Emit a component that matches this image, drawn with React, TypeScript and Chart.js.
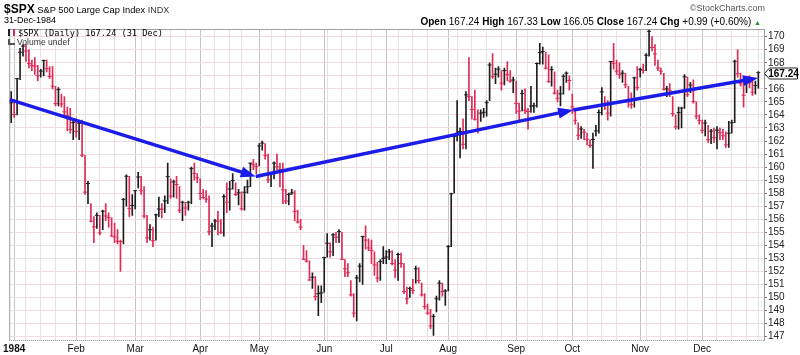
import React, { useEffect, useRef } from 'react';
import { Chart, registerables } from 'chart.js';

Chart.register(...registerables);

// [high, low, close]  (open = close in this data set)
type HLC = [number, number, number];

const prevClose1983 = 164.86; // 29-Dec-1983
const dec1983: HLC[] = [[165.8, 163.4, 164.93]];
const jan: HLC[] = [
  [164.9, 163.8, 164.04], [166.8, 164.0, 166.78], [169.1, 166.7, 168.81], [169.4, 168.5, 169.28],
  [169.4, 168.1, 168.9], [169.0, 167.6, 167.95], [168.2, 167.4, 167.8], [168.4, 167.1, 167.75],
  [167.8, 166.6, 167.02], [167.5, 166.9, 167.36], [168.2, 167.0, 168.17], [168.2, 167.3, 167.55],
  [167.7, 166.8, 166.95], [167.7, 166.0, 166.21], [166.2, 164.7, 164.87], [166.1, 164.7, 165.94],
  [165.6, 164.6, 164.84], [165.4, 164.0, 164.24], [164.6, 162.8, 163.94], [164.5, 162.6, 162.87],
  [163.6, 162.1, 163.41],
];
const feb: HLC[] = [
  [163.7, 162.3, 162.74], [163.6, 162.1, 163.36], [163.6, 160.8, 160.91], [160.9, 157.9, 158.08],
  [158.9, 157.2, 158.74], [157.2, 155.8, 155.85], [156.2, 154.2, 155.42], [156.5, 155.3, 156.3],
  [156.3, 154.8, 154.95], [156.7, 155.2, 156.61], [157.2, 155.9, 156.25], [156.5, 155.4, 156.13],
  [156.1, 154.7, 154.71], [155.7, 154.2, 154.64], [155.2, 154.1, 154.31], [154.4, 152.0, 154.29],
  [157.6, 154.1, 157.51], [159.4, 157.0, 159.3], [159.3, 156.2, 156.82], [157.9, 156.3, 157.06],
];
const mar: HLC[] = [
  [158.2, 156.8, 158.19], [159.6, 158.4, 159.24], [159.3, 157.9, 158.19], [158.5, 156.1, 156.25],
  [156.3, 154.2, 154.57], [155.6, 154.4, 155.19], [155.4, 153.9, 154.35], [156.4, 154.4, 156.34],
  [157.7, 156.2, 156.78], [157.2, 156.1, 156.77], [157.8, 156.5, 157.41], [160.3, 157.2, 159.27],
  [159.1, 157.6, 157.78], [159.0, 157.7, 158.86], [159.3, 157.6, 158.66], [158.5, 156.5, 156.69],
  [157.4, 155.9, 157.3], [157.3, 156.3, 156.86], [157.4, 156.7, 157.3], [160.0, 157.2, 159.88],
  [160.3, 159.0, 159.52], [159.5, 158.8, 159.18],
];
const apr: HLC[] = [
  [159.1, 157.5, 157.98], [158.3, 157.6, 157.66], [158.2, 157.3, 157.54], [157.8, 154.8, 155.04],
  [155.7, 153.9, 155.48], [156.0, 155.2, 155.87], [156.6, 154.8, 155.86], [156.0, 154.9, 155.0],
  [157.9, 154.7, 157.73], [158.8, 156.5, 157.31], [158.9, 156.7, 158.32], [159.5, 158.3, 158.97],
  [158.8, 157.8, 157.9], [158.3, 157.1, 158.02], [158.1, 156.7, 156.8], [158.5, 156.7, 158.07],
  [159.0, 158.0, 158.49], [160.3, 158.5, 160.3], [160.6, 159.8, 160.18], [160.3, 159.5, 160.05],
];
const may: HLC[] = [
  [161.8, 160.1, 161.62], [162.0, 161.3, 161.84], [161.8, 160.6, 160.9], [161.0, 158.8, 159.02],
  [159.6, 158.5, 159.5], [160.4, 159.1, 160.3], [161.0, 159.8, 160.02], [160.3, 158.5, 159.8],
  [160.3, 157.2, 158.25], [158.3, 157.2, 157.4], [158.0, 157.1, 157.9], [158.3, 157.9, 158.02],
  [158.2, 155.9, 156.6], [156.7, 155.7, 155.8], [156.0, 155.2, 155.4], [154.0, 152.9, 152.92],
  [153.6, 152.7, 152.8], [152.8, 151.3, 151.34], [151.9, 150.7, 151.55], [151.6, 149.8, 150.07],
  [150.9, 148.6, 150.29], [150.9, 149.6, 150.35],
];
const jun: HLC[] = [
  [153.1, 150.4, 153.06], [154.9, 153.1, 154.16], [154.2, 153.1, 153.5], [154.9, 153.2, 154.8],
  [155.0, 154.2, 154.62], [155.2, 154.2, 155.05], [155.0, 152.9, 152.92], [152.9, 151.6, 152.2],
  [152.6, 151.6, 151.9], [151.3, 150.1, 150.2], [150.3, 148.5, 148.8], [151.7, 148.2, 151.5],
  [152.6, 151.2, 152.4], [154.7, 151.0, 154.67], [155.5, 153.7, 154.4], [154.5, 153.6, 153.8],
  [154.4, 152.6, 153.6], [153.5, 151.7, 152.5], [152.7, 151.2, 151.5], [152.9, 151.3, 152.75],
  [153.9, 152.6, 153.0],
];
const jul: HLC[] = [
  [153.6, 152.6, 153.1], [153.7, 152.9, 153.5], [153.6, 152.5, 152.6], [152.9, 151.5, 152.1],
  [153.4, 151.3, 153.3], [153.4, 152.3, 152.6], [152.6, 150.3, 150.45], [150.8, 149.5, 149.9],
  [150.8, 150.0, 150.7], [151.4, 150.3, 150.55], [152.4, 151.1, 152.2], [152.3, 151.1, 151.3],
  [151.1, 150.1, 150.2], [150.3, 149.1, 149.3], [149.5, 148.7, 148.8], [149.1, 147.6, 147.82],
  [148.7, 147.1, 148.55], [150.1, 148.9, 149.9], [151.3, 149.8, 151.1], [151.1, 150.1, 150.45],
  [150.6, 149.4, 150.5],
];
const aug: HLC[] = [
  [154.0, 150.5, 153.9], [158.0, 153.9, 157.95], [162.5, 158.0, 162.35], [165.1, 162.0, 162.6],
  [163.0, 160.7, 162.72], [163.7, 161.4, 161.75], [165.8, 161.4, 165.54], [168.4, 165.1, 165.42],
  [165.4, 163.7, 164.42], [165.9, 163.6, 163.67], [164.4, 162.6, 162.8], [164.4, 163.5, 164.14],
  [164.5, 163.8, 164.2], [165.1, 163.9, 164.94], [168.0, 165.1, 167.83], [168.7, 166.8, 166.94],
  [167.6, 166.4, 167.12], [167.7, 166.9, 167.51], [167.4, 165.9, 166.44], [167.6, 166.3, 167.4],
  [168.1, 166.6, 167.09], [167.4, 166.5, 166.6], [166.9, 165.7, 166.68],
];
const sep: HLC[] = [
  [166.6, 164.1, 164.88], [164.9, 163.6, 164.29], [165.9, 164.3, 165.65], [166.0, 164.1, 164.37],
  [164.5, 162.9, 164.26], [166.2, 164.2, 164.68], [164.9, 164.2, 164.7], [168.0, 164.6, 167.94],
  [169.5, 167.9, 168.78], [169.2, 167.9, 168.87], [168.8, 167.5, 167.59], [168.6, 166.5, 166.55],
  [167.7, 166.2, 167.47], [167.3, 165.6, 165.67], [165.9, 165.0, 165.28], [166.2, 164.7, 165.62],
  [167.1, 165.6, 166.96], [167.3, 166.5, 167.2], [167.0, 165.9, 166.64],
];
const oct: HLC[] = [
  [165.6, 164.1, 164.62], [164.5, 163.3, 163.59], [163.4, 162.1, 162.44], [163.1, 162.2, 162.92],
  [162.9, 162.1, 162.68], [162.6, 161.7, 162.13], [162.1, 161.5, 161.67], [162.6, 159.9, 162.11],
  [163.2, 162.4, 162.78], [164.4, 162.6, 164.18], [166.1, 164.0, 165.77], [165.4, 164.4, 164.78],
  [165.1, 163.6, 164.14], [168.1, 163.9, 168.1], [169.5, 167.5, 167.96], [168.2, 167.1, 167.36],
  [168.0, 166.8, 167.09], [167.4, 166.5, 167.2], [167.2, 166.1, 166.31], [166.2, 164.6, 165.0],
  [165.7, 164.5, 164.78], [166.9, 164.6, 166.84], [167.7, 165.9, 166.09],
];
const nov: HLC[] = [
  [167.6, 166.9, 167.49], [167.9, 167.2, 167.42], [168.7, 167.4, 168.58], [170.5, 168.5, 170.41],
  [170.0, 168.9, 169.17], [169.4, 167.8, 168.68], [168.2, 167.4, 167.6], [167.6, 167.1, 167.36],
  [167.2, 165.9, 165.97], [166.2, 165.4, 165.99], [166.4, 165.4, 165.89], [165.4, 163.9, 164.1],
  [164.0, 162.9, 163.09], [164.6, 162.9, 164.18], [164.6, 163.0, 164.52], [167.1, 164.5, 166.92],
  [166.9, 165.4, 165.55], [166.5, 165.7, 166.29], [166.7, 164.9, 165.02], [165.0, 163.7, 163.91],
  [164.0, 163.3, 163.58],
];
const dec: HLC[] = [
  [163.6, 162.6, 162.82], [163.6, 162.4, 163.38], [163.2, 161.9, 162.1], [162.9, 161.8, 162.76],
  [163.0, 161.9, 162.26], [163.1, 161.4, 162.83], [163.0, 162.1, 162.63], [162.9, 162.1, 162.4],
  [162.7, 161.5, 161.7], [163.5, 161.5, 162.6], [163.6, 162.6, 163.4], [168.2, 163.4, 168.11],
  [169.0, 166.9, 167.16], [167.2, 166.2, 166.38], [166.9, 164.6, 165.51], [166.9, 165.7, 166.76],
  [167.0, 166.1, 166.47], [166.6, 165.5, 165.75], [166.6, 165.6, 166.25], [167.33, 166.05, 167.24],
];

const monthLabels = ['1984', 'Feb', 'Mar', 'Apr', 'May', 'Jun', 'Jul', 'Aug', 'Sep', 'Oct', 'Nov', 'Dec'];
const holidays = ['1984-01-02', '1984-02-20', '1984-04-20', '1984-05-28', '1984-07-04', '1984-09-03', '1984-11-22', '1984-12-25'];
const yTickValues = [147, 148, 149, 150, 151, 152, 153, 154, 155, 156, 157, 158, 159, 160, 161, 162, 163, 164, 165, 166, 167, 168, 169, 170];

// Trend arrows drawn by the analyst: [bar index, price]
const trendPoints: [number, number][] = [[-0.5, 165.18], [82.8, 159.28], [190.3, 164.38], [252.9, 166.83]];

const Y_MIN = 146.74;
const Y_MAX = 170.59;
const X_MIN = -0.673;
const X_MAX = 254.92;

const FONT = '"Liberation Sans", Arial, Helvetica, sans-serif';
const UP = '#1e1e1e';
const DOWN = '#df2a56';

const bars: HLC[] = [...dec1983, ...jan, ...feb, ...mar, ...apr, ...may, ...jun, ...jul, ...aug, ...sep, ...oct, ...nov, ...dec];

function buildDates(): number[] {
  const out: number[] = [Date.UTC(1983, 11, 30)];
  const hol = new Set(holidays);
  for (let t = Date.UTC(1984, 0, 1); t <= Date.UTC(1984, 11, 31); t += 864e5) {
    const d = new Date(t);
    const wd = d.getUTCDay();
    if (wd === 0 || wd === 6) continue;
    if (hol.has(d.toISOString().slice(0, 10))) continue;
    out.push(t);
  }
  return out;
}

const dates = buildDates();
const weekOf = (t: number) => Math.floor((t - Date.UTC(1983, 11, 26)) / (7 * 864e5));

type GT = { v: number; month: boolean; label: string };
const gridTicks: GT[] = (() => {
  const monthWeeks = new Set<number>();
  for (let i = 1; i < dates.length; i++) {
    if (new Date(dates[i]).getUTCMonth() !== new Date(dates[i - 1]).getUTCMonth()) monthWeeks.add(weekOf(dates[i]));
  }
  const res: GT[] = [];
  for (let i = 1; i < dates.length; i++) {
    const m = new Date(dates[i]).getUTCMonth();
    const monthStart = m !== new Date(dates[i - 1]).getUTCMonth();
    const wk = weekOf(dates[i]);
    const weekStart = wk !== weekOf(dates[i - 1]);
    if (monthStart) res.push({ v: i, month: true, label: monthLabels[m] });
    else if (weekStart && !monthWeeks.has(wk)) res.push({ v: i, month: false, label: '' });
  }
  return res;
})();
const tickInfo = new Map(gridTicks.map((g) => [g.v, g]));

const colors = bars.map((b, i) => (b[2] >= (i === 0 ? prevClose1983 : bars[i - 1][2]) ? UP : DOWN));

const overlayPlugin = {
  id: 'overlay',
  beforeDatasetsDraw(chart: any) {
    const { ctx, chartArea: a } = chart;
    ctx.save();
    ctx.strokeStyle = '#a0a0a0';
    ctx.lineWidth = 1;
    ctx.beginPath();
    ctx.moveTo(a.left + 0.5, a.bottom);
    ctx.lineTo(a.left + 0.5, a.top + 0.5);
    ctx.lineTo(a.right, a.top + 0.5);
    ctx.stroke();
    ctx.setLineDash([1, 1]);
    ctx.strokeStyle = '#8a8a8a';
    ctx.beginPath();
    ctx.moveTo(a.left, a.bottom + 0.5);
    ctx.lineTo(a.right, a.bottom + 0.5);
    ctx.stroke();
    ctx.restore();
  },
  afterDatasetsDraw(chart: any) {
    const { ctx } = chart;
    const xs = chart.scales.x;
    const ys = chart.scales.y;
    const pts = trendPoints.map(([i, v]) => [xs.getPixelForValue(i), ys.getPixelForValue(v)]);
    ctx.save();
    ctx.strokeStyle = '#1c1ce8';
    ctx.fillStyle = '#1c1ce8';
    ctx.lineWidth = 3.5;
    ctx.lineCap = 'butt';
    const segs = [[0, 1], [1, 2], [2, 3]];
    for (const [s, e] of segs) {
      const [x0, y0] = pts[s];
      const [x1, y1] = pts[e];
      const ang = Math.atan2(y1 - y0, x1 - x0);
      const L = 15;
      const W = 5.5;
      const bx = x1 - Math.cos(ang) * L;
      const by = y1 - Math.sin(ang) * L;
      ctx.beginPath();
      ctx.moveTo(x0, y0);
      ctx.lineTo(bx + Math.cos(ang) * 2, by + Math.sin(ang) * 2);
      ctx.stroke();
      ctx.beginPath();
      ctx.moveTo(x1, y1);
      ctx.lineTo(bx + Math.sin(ang) * W, by - Math.cos(ang) * W);
      ctx.lineTo(bx - Math.sin(ang) * W, by + Math.cos(ang) * W);
      ctx.closePath();
      ctx.fill();
    }
    ctx.restore();
  },
  afterDraw(chart: any) {
    const { ctx, chartArea: a } = chart;
    const last = bars[bars.length - 1][2];
    const y = Math.round(chart.scales.y.getPixelForValue(last)) + 0.5;
    const x0 = a.right + 0.5;
    ctx.save();
    ctx.beginPath();
    ctx.moveTo(x0, y);
    ctx.lineTo(x0 + 5, y - 5.5);
    ctx.lineTo(797.5, y - 5.5);
    ctx.lineTo(797.5, y + 5.5);
    ctx.lineTo(x0 + 5, y + 5.5);
    ctx.closePath();
    ctx.fillStyle = '#fff';
    ctx.fill();
    ctx.strokeStyle = '#222';
    ctx.lineWidth = 1;
    ctx.stroke();
    ctx.fillStyle = '#000';
    ctx.font = `bold 10px ${FONT}`;
    ctx.textAlign = 'center';
    ctx.textBaseline = 'middle';
    ctx.fillText(last.toFixed(2), (x0 + 5 + 797.5) / 2, y + 0.5);
    ctx.restore();
  },
};

export default function App() {
  const ref = useRef<HTMLCanvasElement | null>(null);

  useEffect(() => {
    if (!ref.current) return;
    const chart = new Chart(ref.current, {
      type: 'bar',
      data: {
        datasets: [
          {
            type: 'bar',
            data: bars.map((b, i) => ({ x: i, y: [b[1], b[0]] })) as any,
            backgroundColor: colors,
            borderWidth: 0,
            barThickness: 1,
            grouped: false,
            order: 2,
          } as any,
          {
            type: 'scatter',
            data: bars.map((b, i) => ({ x: i, y: b[2] })),
            pointStyle: 'line',
            pointRadius: 2,
            pointBorderWidth: 1,
            pointBorderColor: colors,
            pointBackgroundColor: colors,
            order: 1,
          } as any,
        ],
      },
      options: {
        responsive: false,
        animation: false,
        events: [],
        layout: { padding: { left: 5, top: 29, right: 0, bottom: 0 } },
        plugins: { legend: { display: false }, tooltip: { enabled: false } },
        scales: {
          x: {
            type: 'linear',
            min: X_MIN,
            max: X_MAX,
            offset: false,
            afterBuildTicks: (s: any) => {
              s.ticks = gridTicks.map((g) => ({ value: g.v }));
            },
            afterFit: (s: any) => {
              s.height = 15;
            },
            grid: {
              color: (c: any) => (tickInfo.get(c.tick?.value)?.month ? '#c4c4c4' : '#e4e4e4'),
              drawTicks: false,
              offset: false,
            },
            border: { display: false },
            ticks: {
              autoSkip: false,
              maxRotation: 0,
              padding: 3,
              color: '#111',
              font: (c: any) => ({
                family: FONT,
                size: 10,
                weight: tickInfo.get(c.tick?.value)?.label === '1984' ? 'bold' : 'normal',
              }),
              callback: (v: any) => tickInfo.get(v)?.label ?? '',
            },
          } as any,
          y: {
            position: 'right',
            min: Y_MIN,
            max: Y_MAX,
            afterBuildTicks: (s: any) => {
              s.ticks = yTickValues.map((v) => ({ value: v }));
            },
            afterFit: (s: any) => {
              s.width = 36;
            },
            grid: { color: '#ecdede', tickLength: 3, drawTicks: true, tickColor: '#777' },
            border: { display: true, color: '#9a9a9a' },
            ticks: {
              autoSkip: false,
              padding: 1,
              color: '#222',
              font: { family: FONT, size: 10 },
              callback: (v: any) => String(v),
            },
          } as any,
        },
      },
      plugins: [overlayPlugin],
    });
    return () => chart.destroy();
  }, []);

  return (
    <div style={{ position: 'absolute', left: 0, top: 0, width: 800, height: 355, background: '#fff', fontFamily: FONT, color: '#000', overflow: 'hidden' }}>
      <canvas ref={ref} width={800} height={355} style={{ position: 'absolute', left: 0, top: 0, width: 800, height: 355 }} />
      <div style={{ position: 'absolute', left: 4, top: 1, whiteSpace: 'nowrap', lineHeight: '13px' }}>
        <span style={{ fontWeight: 'bold', fontSize: 12 }}>$SPX</span>
        <span style={{ fontSize: 9.3 }}> S&amp;P 500 Large Cap Index </span>
        <span style={{ fontSize: 9, color: '#333' }}>INDX</span>
      </div>
      <div style={{ position: 'absolute', left: 4, top: 15, fontSize: 9, lineHeight: '10px', whiteSpace: 'nowrap' }}>31-Dec-1984</div>
      <div style={{ position: 'absolute', right: 35, top: 3, fontSize: 9, lineHeight: '10px', color: '#555', whiteSpace: 'nowrap' }}>©StockCharts.com</div>
      <div style={{ position: 'absolute', right: 39, top: 16, fontSize: 10, lineHeight: '11px', whiteSpace: 'nowrap' }}>
        <b>Open</b> 167.24 <b>High</b> 167.33 <b>Low</b> 166.05 <b>Close</b> 167.24 <b>Chg</b> +0.99 (+0.60%) <span style={{ fontSize: 7, color: '#2a8a2a' }}>▲</span>
      </div>
      <div style={{ position: 'absolute', left: 8, top: 29, fontSize: 8.6, lineHeight: '9px', whiteSpace: 'nowrap', fontFamily: '"DejaVu Sans Mono", monospace' }}>
        <span style={{ display: 'inline-block', width: 7, height: 7, marginRight: 3, borderLeft: '2px solid #222', borderRight: '2px solid #df2a56', boxSizing: 'border-box' }} />
        $SPX (Daily) 167.24 (31 Dec)
      </div>
      <div style={{ position: 'absolute', left: 8, top: 38, fontSize: 8.6, lineHeight: '9px', whiteSpace: 'nowrap', color: '#333' }}>
        <span style={{ display: 'inline-block', width: 7, height: 6, marginRight: 2, borderBottom: '2px solid #555', borderLeft: '2px solid #555', boxSizing: 'border-box' }} />
        Volume undef
      </div>
    </div>
  );
}
